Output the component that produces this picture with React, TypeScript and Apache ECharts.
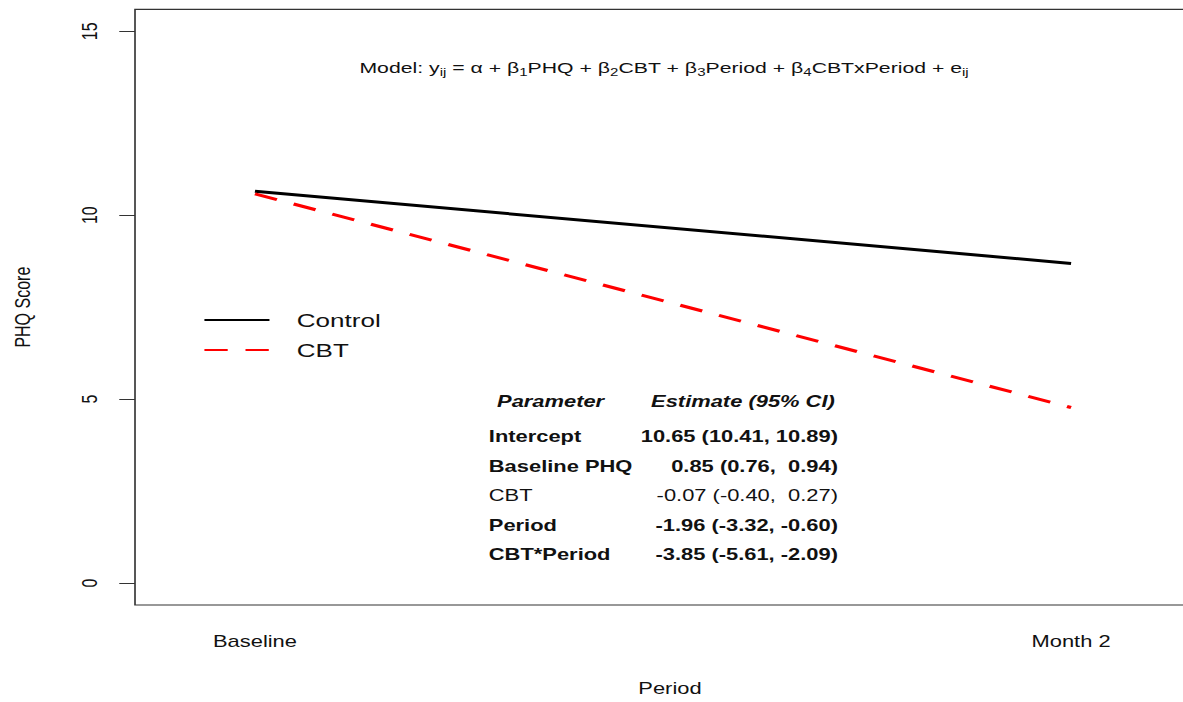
import React, { useEffect, useRef } from "react";
import * as echarts from "echarts";

// ---- data ----
const periodLabels = ["Baseline", "Month 2"];
const periodX = [1, 2];
const controlScores = [10.65, 8.69];
const cbtScores = [10.58, 4.77];
const yTicks = [0, 5, 10, 15];
const seriesNames = ["Control", "CBT"];
const tableHeader = ["Parameter", "Estimate (95% CI)"];
const paramNames = ["Intercept", "Baseline PHQ", "CBT", "Period", "CBT*Period"];
const paramEstimates = [
  "10.65 (10.41, 10.89)",
  "0.85 (0.76,  0.94)",
  "-0.07 (-0.40,  0.27)",
  "-1.96 (-3.32, -0.60)",
  "-3.85 (-5.61, -2.09)",
];
const paramBold = [true, true, false, true, true];
const modelText =
  "Model: y{s|ij} = α + β{s|1}PHQ + β{s|2}CBT + β{s|3}Period + β{s|4}CBTxPeriod + e{s|ij}";

// ---- layout (inner, unstretched coordinates) ----
const STRETCH = 1183 / 864;
const INNER_W = 880;
const H = 702;
const FONT = "'Liberation Sans', Arial, sans-serif";
const TXT = "#111";

export default function App() {
  const ref = useRef<HTMLDivElement>(null);

  useEffect(() => {
    if (!ref.current) return;
    const chart = echarts.init(ref.current, undefined, { renderer: "svg" });

    const rowY = [437, 467, 496, 526, 555];
    const tableEls: any[] = [
      {
        type: "text",
        x: 363,
        y: 402,
        style: {
          text: tableHeader[0],
          font: `italic bold 16px ${FONT}`,
          fill: TXT,
          align: "left",
          verticalAlign: "middle",
        },
      },
      {
        type: "text",
        x: 475.5,
        y: 402,
        style: {
          text: tableHeader[1],
          font: `italic bold 16px ${FONT}`,
          fill: TXT,
          align: "left",
          verticalAlign: "middle",
        },
      },
    ];
    paramNames.forEach((name, i) => {
      const w = paramBold[i] ? "bold" : "normal";
      tableEls.push({
        type: "text",
        x: 357,
        y: rowY[i],
        style: {
          text: name,
          font: `${w} 16px ${FONT}`,
          fill: TXT,
          align: "left",
          verticalAlign: "middle",
        },
      });
      tableEls.push({
        type: "text",
        x: 612,
        y: rowY[i],
        style: {
          text: paramEstimates[i],
          font: `${w} 16px ${FONT}`,
          fill: TXT,
          align: "right",
          verticalAlign: "middle",
        },
      });
    });

    chart.setOption({
      animation: false,
      backgroundColor: "#ffffff",
      grid: {
        left: 98.6,
        right: 0,
        top: 9.3,
        bottom: 93,
        show: true,
        borderColor: "#333",
        borderWidth: 1.2,
        containLabel: false,
      },
      xAxis: {
        type: "value",
        min: 0.853,
        max: 2.164,
        axisLine: { show: false },
        axisTick: { show: false },
        splitLine: { show: false },
        axisLabel: {
          customValues: periodX,
          formatter: (v: number) => periodLabels[periodX.indexOf(v)] ?? "",
          margin: 29,
          fontSize: 16,
          fontFamily: FONT,
          color: TXT,
        },
        name: "Period",
        nameLocation: "middle",
        nameGap: 76,
        nameTextStyle: { fontSize: 16, fontFamily: FONT, color: TXT },
      },
      yAxis: {
        type: "value",
        min: -0.6,
        max: 15.6,
        axisLine: { show: false },
        axisTick: {
          show: true,
          customValues: yTicks,
          length: 11.5,
          lineStyle: { color: "#333", width: 1 },
        },
        splitLine: { show: false },
        axisLabel: {
          customValues: yTicks,
          rotate: 90,
          margin: 25,
          fontSize: 16,
          fontFamily: FONT,
          color: TXT,
        },
        name: "PHQ Score",
        nameLocation: "middle",
        nameGap: 74,
        nameRotate: 90,
        nameTextStyle: { fontSize: 16, fontFamily: FONT, color: TXT },
      },
      legend: {
        orient: "vertical",
        left: 148.3,
        top: 310,
        padding: 0,
        itemWidth: 47.5,
        itemHeight: 12,
        itemGap: 10,
        data: seriesNames,
        itemStyle: { opacity: 0 },
        textStyle: {
          fontSize: 19,
          fontFamily: FONT,
          color: TXT,
          lineHeight: 20,
          padding: [0, 0, 0, 15],
        },
      },
      series: [
        {
          name: seriesNames[0],
          type: "line",
          data: periodX.map((x, i) => [x, controlScores[i]]),
          symbol: "none",
          lineStyle: { color: "#000000", width: 3 },
          itemStyle: { color: "#000000" },
        },
        {
          name: seriesNames[1],
          type: "line",
          data: periodX.map((x, i) => [x, cbtScores[i]]),
          symbol: "none",
          lineStyle: { color: "#ff0000", width: 3, type: [17, 13] },
          itemStyle: { color: "#ff0000" },
        },
      ],
      graphic: [
        {
          type: "text",
          x: 485,
          y: 68,
          style: {
            text: modelText,
            fontSize: 15.5,
            fontFamily: FONT,
            lineHeight: 20,
            fill: TXT,
            align: "center",
            verticalAlign: "middle",
            rich: {
              s: { fontSize: 11, lineHeight: 8, verticalAlign: "bottom", fontFamily: FONT, fill: TXT },
            },
          },
        },
        ...tableEls,
      ],
    });

    return () => chart.dispose();
  }, []);

  return (
    <div
      style={{
        position: "fixed",
        left: 0,
        top: 0,
        width: 1183,
        height: H,
        overflow: "hidden",
        background: "#fff",
      }}
    >
      <div
        ref={ref}
        style={{
          width: INNER_W,
          height: H,
          transform: `scaleX(${STRETCH})`,
          transformOrigin: "0 0",
        }}
      />
    </div>
  );
}
